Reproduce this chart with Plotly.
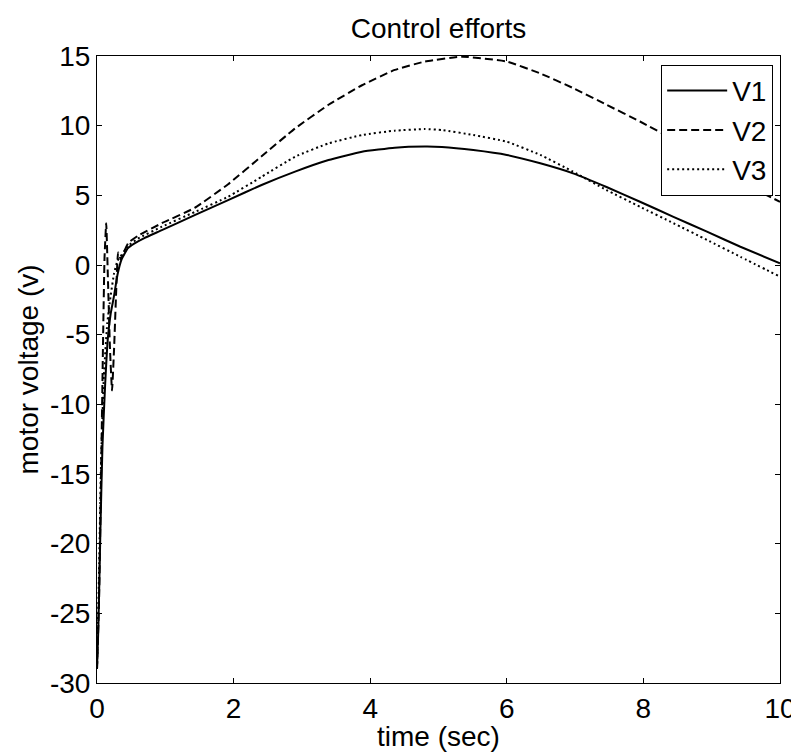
import plotly.graph_objects as go

# Data (time in sec, motor voltage in v)
t_v1 = [0, 0.02, 0.05, 0.08, 0.12, 0.16, 0.2, 0.25, 0.3, 0.36, 0.45, 0.55, 0.7, 0.95,
        1.43, 1.92, 2.41, 2.9, 3.39, 3.88, 4.36, 4.8, 5.05, 5.51, 6.0, 6.49, 6.97,
        7.46, 7.95, 8.44, 8.93, 9.42, 10]
v1 = [-29, -26, -19, -13, -8.5, -5.2, -3.5, -2.2, -0.7, 0.4, 1.2, 1.55, 1.95, 2.5,
      3.58, 4.66, 5.74, 6.7, 7.53, 8.13, 8.42, 8.5, 8.47, 8.25, 7.9, 7.3, 6.58,
      5.6, 4.54, 3.46, 2.39, 1.31, 0.12]

t_v2 = [0, 0.03, 0.06, 0.09, 0.11, 0.135, 0.16, 0.19, 0.22, 0.25, 0.28, 0.31, 0.35,
        0.4, 0.46, 0.6, 0.95, 1.43, 1.92, 2.41, 2.9, 3.39, 3.88, 4.36, 4.8, 5.35,
        6.0, 6.49, 6.97, 7.46, 7.95, 8.5, 9.0, 9.5, 9.66, 10]
v2 = [-29, -24, -15, -5, 0.5, 3.0, -1, -6, -9, -6, -2, 0.9, 0.4,
      1.0, 1.6, 2.1, 3.0, 4.1, 5.8, 7.8, 9.8, 11.5, 12.9, 14.0, 14.6, 14.95,
      14.6, 13.75, 12.7, 11.5, 10.3, 8.85, 7.5, 5.95, 5.38, 4.54]

t_v3 = [0, 0.03, 0.06, 0.1, 0.15, 0.2, 0.25, 0.3, 0.4, 0.46, 0.6, 0.95, 1.43, 1.92,
        2.41, 2.9, 3.39, 3.88, 4.36, 4.8, 5.05, 5.51, 6.0, 6.49, 6.97, 7.46, 7.95,
        8.44, 8.93, 9.42, 10]
v3 = [-29, -22, -14, -8, -4.2, -2.2, -0.6, 0.3, 1.0, 1.4, 1.9, 2.75, 3.8, 4.9,
      6.33, 7.77, 8.73, 9.33, 9.64, 9.76, 9.69, 9.33, 8.85, 7.9, 6.7, 5.38, 4.18,
      3.0, 1.8, 0.59, -0.84]

x_ticks = [0, 2, 4, 6, 8, 10]
y_ticks = [-30, -25, -20, -15, -10, -5, 0, 5, 10, 15]
y_tick_text = ["-30", "-25", "-20", "-15", "-10", "-5", "0", "5", "10", "15"]

FONT = "Liberation Sans, Arial, sans-serif"
BIG = dict(family=FONT, size=28, color="black")

fig = go.Figure()
fig.add_trace(go.Scatter(x=t_v1, y=v1, mode="lines", name="V1",
                         line=dict(color="black", width=2, shape="spline", smoothing=0.4)))
fig.add_trace(go.Scatter(x=t_v2, y=v2, mode="lines", name="V2",
                         line=dict(color="black", width=2, dash="8px,4px",
                                   shape="spline", smoothing=0.4)))
fig.add_trace(go.Scatter(x=t_v3, y=v3, mode="lines", name="V3",
                         line=dict(color="black", width=2, dash="2px,3px",
                                   shape="spline", smoothing=0.4)))

axis_style = dict(
    showline=True, linecolor="black", linewidth=1, mirror="ticks",
    ticks="inside", ticklen=5, tickcolor="black", showgrid=False, zeroline=False,
    tickfont=BIG, automargin=False,
)

fig.update_xaxes(range=[0, 10], tickvals=x_ticks, **axis_style)
fig.update_yaxes(range=[-30, 15], tickvals=y_ticks, ticktext=y_tick_text, **axis_style)

# page body adds an 8px offset, so the figure is 8px smaller than the window
fig.update_layout(
    width=791, height=747,
    margin=dict(l=89, r=19, t=48, b=72),
    paper_bgcolor="white", plot_bgcolor="white",
    title=dict(text="Control efforts", x=0.5, xref="paper", xanchor="center",
               y=1 - 20 / 747, yanchor="middle", yref="container", font=BIG),
    legend=dict(x=0.99, xanchor="right", y=0.986, yanchor="top",
                bgcolor="white", bordercolor="black", borderwidth=1,
                font=BIG, itemwidth=60, tracegroupgap=0),
    showlegend=True,
    annotations=[
        dict(text="time (sec)", xref="paper", yref="paper", x=0.5, y=-0.086,
             xanchor="center", yanchor="middle", showarrow=False, font=BIG),
        dict(text="motor voltage (v)", xref="paper", yref="paper", x=-0.101, y=0.5,
             xanchor="center", yanchor="middle", textangle=-90, showarrow=False,
             font=BIG),
    ],
)

fig.write_html("out.html")
